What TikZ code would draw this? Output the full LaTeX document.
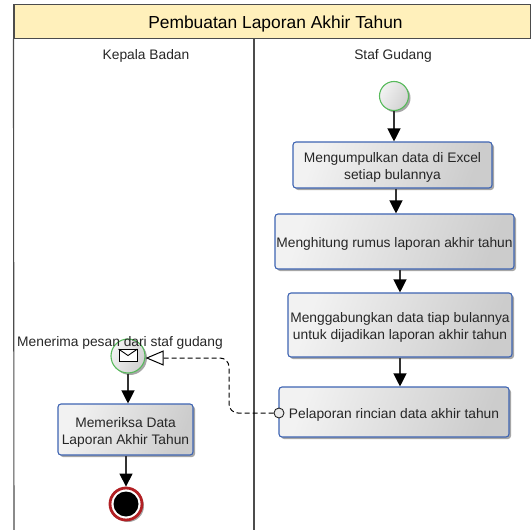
\documentclass[tikz,border=0pt]{standalone}
\usepackage{fontspec}
\setmainfont{Liberation Sans}
\usetikzlibrary{arrows.meta,shadows}
\definecolor{bandyellow}{RGB}{255,240,187}
\definecolor{taskblue}{RGB}{62,100,178}
\definecolor{startgreen}{RGB}{88,186,92}
\definecolor{endred}{RGB}{178,32,36}
\newcommand{\turun}{\rule{0pt}{15pt}}

\begin{document}
\begin{tikzpicture}[x=1pt, y=-1pt,
    every node/.style={font=\fontsize{13.8}{17}\selectfont, text=black!85, inner sep=0pt, align=center},
    softshadow/.style={drop shadow={shadow xshift=2pt, shadow yshift=-2pt, opacity=0.35, fill=black}},
    taskbox/.style={rectangle, rounded corners=3pt, draw=taskblue, line width=1.1pt, left color=white!95!black, right color=black!20, shading angle=70, softshadow},
    startevent/.style={circle, draw=startgreen, line width=1.1pt, left color=white!95!black, right color=black!18, shading angle=60, softshadow},
    endevent/.style={circle, draw=endred, line width=2.8pt, fill=white, minimum size=32pt, softshadow},
    laneline/.style={draw=black!70, line width=1.1pt},
    flow/.style={draw=black!80, line width=1.2pt, -{Triangle[length=13pt,width=13pt,color=black]}},
    msgflow/.style={draw=black, line width=1pt, dash pattern=on 5pt off 3pt, rounded corners=9pt, -{Triangle[open,length=18pt,width=15pt,fill=white]}},
    ]
  \useasboundingbox (0,0) rectangle (531,530);

  % band and lanes
  \node[rectangle, draw=black!70, line width=1.1pt, fill=bandyellow, minimum width=517pt, minimum height=34pt] (band) at (272.5,21.5) {};
  \node[font=\fontsize{17.4}{20}\selectfont, text=black] (judul) at (275.5,24.5) {Pembuatan Laporan Akhir Tahun};
  \draw[laneline] (band.south west) -- (14,530);
  \draw[laneline] (254,38.5) -- (254,530);
  \node (kepala) at (146,56) {Kepala Badan};
  \node (staf) at (393,56) {Staf Gudang};

  % staf gudang
  \node[startevent, minimum size=29pt] (mulai) at (394,96) {};
  \node[taskbox, minimum width=199pt, minimum height=46pt] (kumpul) at (392.5,165) {\turun Mengumpulkan data di Excel\\setiap bulannya};
  \node[taskbox, minimum width=239pt, minimum height=55pt] (hitung) at (394.5,241.5) {\turun Menghitung rumus laporan akhir tahun};
  \node[taskbox, minimum width=224pt, minimum height=64pt] (gabung) at (400,325) {\turun Menggabungkan data tiap bulannya\\untuk dijadikan laporan akhir tahun};
  \node[taskbox, minimum width=230pt, minimum height=50pt] (lapor) at (394,412) {\turun Pelaporan rincian data akhir tahun};
  \node[circle, draw=black!85, line width=0.9pt, fill=black!8, minimum size=10pt] (batas) at (279,413) {};

  % kepala badan
  \node[startevent, minimum size=34pt] (terima) at (128,356) {};
  \node[rectangle, draw=black, line width=0.9pt, fill=white, minimum width=18pt, minimum height=12pt] (amplop) at (128,355.5) {};
  \draw[line width=0.9pt] (amplop.north west) -- (amplop.center) -- (amplop.north east);
  \node (terimateks) at (120,343) {Menerima pesan dari staf gudang};
  \node[taskbox, minimum width=135pt, minimum height=51pt] (periksa) at (125.5,429.5) {\turun Memeriksa Data\\Laporan Akhir Tahun};
  \node[endevent] (selesai) at (126,504) {};
  \node[circle, fill=black, minimum size=25pt] (selesaiisi) at (selesai) {};

  % connectors
  \draw[flow] (mulai) -- (mulai |- kumpul.north);
  \draw[flow] ([xshift=3.5pt]kumpul.south) -- ([xshift=3.5pt]kumpul.south |- hitung.north);
  \draw[flow] (gabung |- hitung.south) -- (gabung.north);
  \draw[flow] (gabung.south) -- (gabung |- lapor.north);
  \draw[flow] (terima.south) -- (terima |- periksa.north);
  \draw[flow] (periksa.south -| selesai) -- (selesai.north);
  \coordinate (belok) at (229,358);
  \draw[msgflow] (batas.west) -| (belok) -- (terima.east |- belok);
\end{tikzpicture}
\end{document}
